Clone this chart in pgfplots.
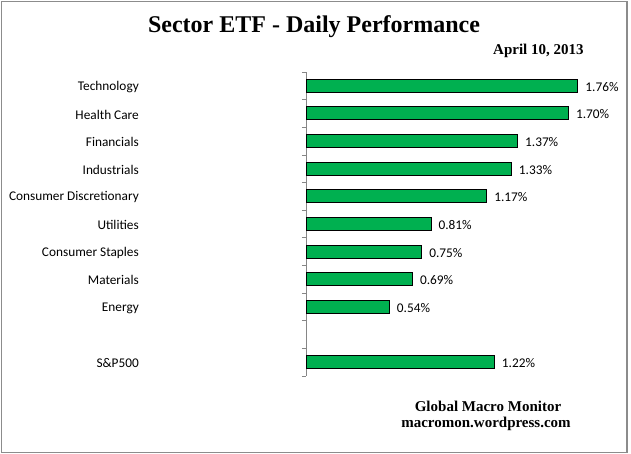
\documentclass[border=0pt]{standalone}
\usepackage{pgfplots}
\pgfplotsset{compat=1.18}
\usepackage{fontspec}
\setmainfont{Carlito}
\newfontfamily\serifb{Liberation Serif}
\definecolor{bargreen}{HTML}{00B050}
\definecolor{axgray}{HTML}{868686}
\definecolor{framegray}{HTML}{8C8C8C}
\begin{document}
\begin{tikzpicture}
\path[use as bounding box] (0,0) rectangle (631bp,454bp);
\fill[white] (0,0) rectangle (631bp,454bp);
\draw[framegray, line width=1.2bp] (1.5bp,1.5bp) rectangle (627bp,452.5bp);
\begin{axis}[
  at={(306bp,78bp)}, anchor=south west,
  scale only axis, width=309bp, height=304bp,
  xmin=0, xmax=2, ymin=-0.5, ymax=10.5, y dir=reverse,
  axis x line=none, axis y line*=left,
  axis line style={axgray, line width=0.8bp},
  xtick=\empty,
  ytick={0,1,2,3,4,5,6,7,8,10},
  yticklabels={Technology,Health Care,Financials,Industrials,Consumer Discretionary,Utilities,Consumer Staples,Materials,Energy,S\&P500},
  major tick length=0pt,
  minor ytick={-0.5,0.5,...,10.5},
  minor tick length=4bp,
  tick align=outside,
  minor tick style={axgray, line width=0.8bp},
  yticklabel style={font=\fontsize{13.3bp}{15bp}\selectfont, anchor=east, inner sep=0pt, xshift=-167bp, yshift=-1bp},
  xbar, bar width=13bp,
  clip=false,
  nodes near coords={\pgfmathprintnumber[assume math mode=true,fixed,precision=2,fixed zerofill]{\pgfplotspointmeta}\%},
  nodes near coords style={font=\fontsize{13.3bp}{15bp}\selectfont, anchor=west, inner sep=0pt, xshift=7bp, yshift=-1bp},
  point meta=explicit,
]
\addplot[fill=bargreen, draw=black, line width=1bp] coordinates {
  (1.76,0) [1.76]
  (1.70,1) [1.70]
  (1.37,2) [1.37]
  (1.33,3) [1.33]
  (1.17,4) [1.17]
  (0.81,5) [0.81]
  (0.75,6) [0.75]
  (0.69,7) [0.69]
  (0.54,8) [0.54]
  (1.22,10) [1.22]
};
\end{axis}
\node[anchor=base, font=\serifb\bfseries\fontsize{24bp}{28bp}\selectfont, inner sep=0] at (314bp,421bp) {Sector ETF - Daily Performance};
\node[anchor=base west, font=\serifb\bfseries\fontsize{15bp}{17bp}\selectfont, inner sep=0] at (493bp,399bp) {April 10, 2013};
\node[anchor=base, font=\serifb\bfseries\fontsize{15bp}{17bp}\selectfont, inner sep=0] at (488bp,42bp) {Global Macro Monitor};
\node[anchor=base, font=\serifb\bfseries\fontsize{15bp}{17bp}\selectfont, inner sep=0] at (486bp,27bp) {macromon.wordpress.com};
\end{tikzpicture}
\end{document}
